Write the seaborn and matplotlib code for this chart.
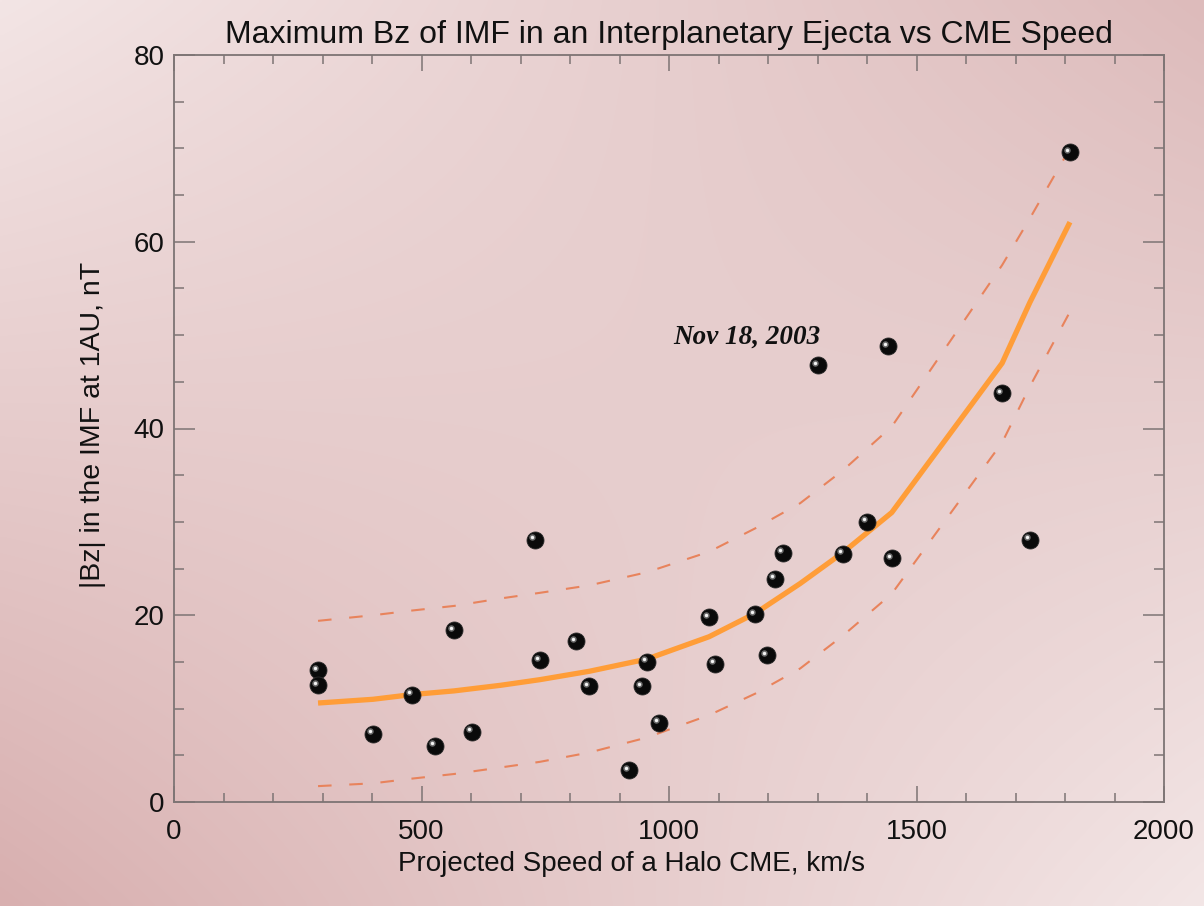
import numpy as np
import pandas as pd
import matplotlib
matplotlib.use("Agg")
import matplotlib.pyplot as plt
import matplotlib.transforms as mtransforms
from matplotlib.ticker import MultipleLocator
import seaborn as sns

# ---------------- data ----------------
speed = [291, 291, 402, 480, 527, 566, 603, 729, 739, 812, 839, 919, 945, 955, 980,
         1081, 1092, 1174, 1197, 1215, 1231, 1300, 1351, 1399, 1443, 1450, 1673, 1729, 1810]
bz = [14.1, 12.5, 7.3, 11.5, 6.0, 18.4, 7.5, 28.1, 15.2, 17.2, 12.4, 3.4, 12.4, 15.0, 8.5,
      19.8, 14.8, 20.1, 15.7, 23.9, 26.7, 46.8, 26.6, 30.0, 48.8, 26.1, 43.8, 28.1, 69.6]

fit_speed = [291, 402, 480, 566, 660, 739, 839, 955, 1081, 1174, 1265, 1351, 1450, 1673, 1729, 1810]
fit_bz = [10.6, 11.0, 11.5, 11.9, 12.5, 13.1, 14.0, 15.3, 17.7, 20.2, 23.4, 26.7, 31.0, 47.0, 53.5, 62.1]
upper_bz = [19.4, 20.0, 20.5, 21.0, 21.8, 22.4, 23.2, 24.6, 26.8, 29.3, 32.0, 35.5, 40.2, 57.5, 62.5, 70.0]
lower_bz = [1.7, 2.0, 2.5, 3.0, 3.7, 4.3, 5.3, 6.9, 9.3, 11.6, 14.3, 17.8, 22.3, 38.5, 44.5, 52.5]

x_ticks = [0, 500, 1000, 1500, 2000]
y_ticks = [0, 20, 40, 60, 80]

title = "Maximum Bz of IMF in an Interplanetary Ejecta vs CME Speed"
xlabel = "Projected Speed of a Halo CME, km/s"
ylabel = "|Bz| in the IMF at 1AU, nT"
note = "Nov 18, 2003"

pts = pd.DataFrame({"speed": speed, "bz": bz})
fit = pd.DataFrame({"speed": fit_speed, "fit": fit_bz, "upper": upper_bz, "lower": lower_bz})

# ---------------- style ----------------
sns.set_style("ticks")
plt.rcParams["font.family"] = ["Liberation Sans", "DejaVu Sans"]

W, H = 1204, 906
fig = plt.figure(figsize=(W / 100, H / 100), dpi=100)

# background gradient (bilinear between corner colours)
TL = np.array([243, 229, 229]) / 255
TR = np.array([221, 187, 187]) / 255
BL = np.array([216, 175, 175]) / 255
BR = np.array([243, 230, 230]) / 255
s = np.linspace(0, 1, 300)[None, :, None]
t = np.linspace(0, 1, 230)[:, None, None]
img = (1 - s) * (1 - t) * TL + s * (1 - t) * TR + (1 - s) * t * BL + s * t * BR
bg = fig.add_axes([0, 0, 1, 1])
bg.imshow(img, aspect="auto", interpolation="bilinear")
bg.set_axis_off()

ax = fig.add_axes([174 / W, 1 - 802 / H, 990 / W, 747 / H])
ax.set_facecolor("none")

# fit and confidence lines
sns.lineplot(data=fit, x="speed", y="upper", ax=ax, color="#e8835c", lw=1.5,
             linestyle=(0, (6.5, 8.5)), sort=False, estimator=None)
sns.lineplot(data=fit, x="speed", y="lower", ax=ax, color="#e8835c", lw=1.5,
             linestyle=(0, (6.5, 8.5)), sort=False, estimator=None)
sns.lineplot(data=fit, x="speed", y="fit", ax=ax, color="#ff9d38", lw=3.8,
             sort=False, estimator=None, solid_capstyle="butt")

# spheres
sns.scatterplot(data=pts, x="speed", y="bz", ax=ax, color="#0a0a0a", s=150,
                edgecolor="#2a2a2a", linewidth=0.6, zorder=5)
off = mtransforms.ScaledTranslation(-3 / 100, 2.5 / 100, fig.dpi_scale_trans)
sns.scatterplot(data=pts, x="speed", y="bz", ax=ax, color="#6a6a6a", s=22,
                linewidth=0, zorder=6, transform=ax.transData + off)
sns.scatterplot(data=pts, x="speed", y="bz", ax=ax, color="#f4f4f4", s=6,
                linewidth=0, zorder=7, transform=ax.transData + off)

ax.text(1158, 49.8, note, family="Liberation Serif", style="italic", weight="bold",
        fontsize=19.5, ha="center", va="center", color="#111111")

ax.set_xlim(0, 2000)
ax.set_ylim(0, 80)
ax.set_xticks(x_ticks)
ax.set_yticks(y_ticks)
ax.xaxis.set_minor_locator(MultipleLocator(100))
ax.yaxis.set_minor_locator(MultipleLocator(5))
ax.set_xlabel("")
ax.set_ylabel("")

spine_c = "#7d7474"
for sp in ax.spines.values():
    sp.set_visible(True)
    sp.set_color(spine_c)
    sp.set_linewidth(1.3)
ax.tick_params(which="both", direction="in", top=True, right=True, color=spine_c,
               width=1.1, labelcolor="#111111", labelsize=20)
ax.tick_params(axis="x", which="major", length=11.5, pad=12)
ax.tick_params(axis="x", which="minor", length=6.2)
ax.tick_params(axis="y", which="major", length=15, pad=7)
ax.tick_params(axis="y", which="minor", length=7.5)

fig.text(669 / W, 1 - 35 / H, title, ha="center", va="center", fontsize=23, color="#111111")
fig.text(632 / W, 1 - 864 / H, xlabel, ha="center", va="center", fontsize=20, color="#111111")
fig.text(93 / W, 1 - 425 / H, ylabel, ha="center", va="center", rotation=90, fontsize=20.5,
         color="#111111")

fig.savefig("out.png", dpi=100)
